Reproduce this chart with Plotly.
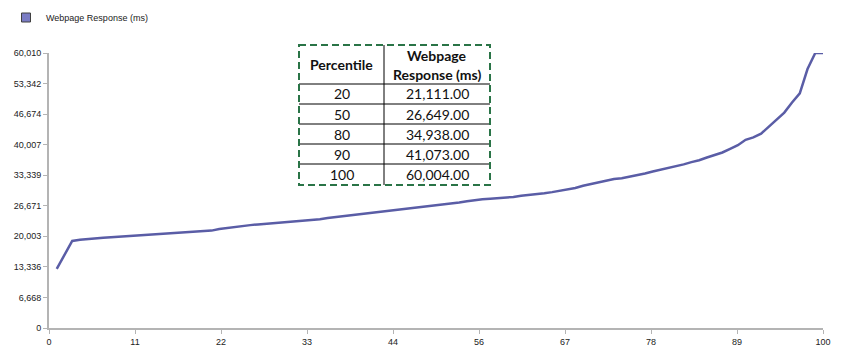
import plotly.graph_objects as go

# ---- data ----
percentiles = list(range(1, 101))
response_ms = [
    12900, 16000, 19000, 19250, 19450, 19600, 19700, 19800, 19900, 20000,
    20100, 20250, 20400, 20480, 20550, 20620, 20700, 20800, 20950, 21111,
    21250, 21600, 21850, 22100, 22300, 22450, 22600, 22750, 22850, 22950,
    23050, 23200, 23400, 23550, 23750, 24000, 24200, 24350, 24500, 24700,
    24900, 25100, 25300, 25500, 25700, 25850, 26050, 26250, 26450, 26649,
    26900, 27150, 27400, 27650, 27900, 28100, 28200, 28300, 28400, 28600,
    28850, 29000, 29200, 29400, 29650, 29950, 30200, 30550, 31050, 31400,
    31800, 32200, 32500, 32700, 33000, 33300, 33700, 34150, 34500, 34938,
    35300, 35700, 36200, 36600, 37200, 37700, 38300, 39100, 39900, 41073,
    41600, 42400, 44000, 45400, 47000, 49200, 51200, 56500, 60000, 60004,
]
series_name = "Webpage Response (ms)"

x_tickvals = [0, 11.111, 22.222, 33.333, 44.444, 55.556, 66.667, 77.778, 88.889, 100]
x_ticktext = ["0", "11", "22", "33", "44", "56", "67", "78", "89", "100"]
y_tickvals = [0, 6668, 13336, 20003, 26671, 33339, 40007, 46674, 53342, 60010]
y_ticktext = ["0", "6,668", "13,336", "20,003", "26,671", "33,339", "40,007", "46,674", "53,342", "60,010"]

table_header = ["Percentile", "Webpage", "Response (ms)"]
table_pct = ["20", "50", "80", "90", "100"]
table_vals = ["21,111.00", "26,649.00", "34,938.00", "41,073.00", "60,004.00"]

# ---- layout geometry (pixels) ----
W, H = 850, 359
L, R, T, B = 49, 27, 53, 31
PW, PH = W - L - R, H - T - B


def px(x):
    return (x - L) / PW


def py(y):
    return (H - B - y) / PH


fig = go.Figure()
fig.add_trace(go.Scatter(
    x=percentiles, y=response_ms, mode="lines",
    line=dict(color="#5a5da6", width=2.5),
    showlegend=False, name=series_name,
))
fig.add_trace(go.Scatter(
    x=[None], y=[None], mode="markers", name=series_name,
    marker=dict(symbol="square", size=9, color="#7a7cc4",
                line=dict(color="#404040", width=1)),
))

shapes = []
annotations = []

# table geometry
tx0, tx1, txm = 299, 490, 384
ty0, ty_head, ty1 = 45, 84, 185
row_lines = [104, 124, 144, 164]
tfont = dict(family="Lato, Carlito, sans-serif", size=14, color="#111111")

for yl in [ty_head] + row_lines:
    shapes.append(dict(type="line", xref="paper", yref="paper",
                       x0=px(tx0), x1=px(tx1), y0=py(yl), y1=py(yl),
                       line=dict(color="black", width=1)))
shapes.append(dict(type="line", xref="paper", yref="paper",
                   x0=px(txm), x1=px(txm), y0=py(ty0), y1=py(ty1),
                   line=dict(color="black", width=1)))
shapes.append(dict(type="rect", xref="paper", yref="paper",
                   x0=px(tx0), x1=px(tx1), y0=py(ty0), y1=py(ty1),
                   fillcolor="rgba(0,0,0,0)",
                   line=dict(color="#2a7447", width=2, dash="7px,4px")))

c1 = (tx0 + txm) / 2
c2 = (txm + tx1) / 2
annotations.append(dict(xref="paper", yref="paper", x=px(c1), y=py((ty0 + ty_head) / 2),
                        text="<b>" + table_header[0] + "</b>", showarrow=False,
                        font=tfont, xanchor="center", yanchor="middle"))
annotations.append(dict(xref="paper", yref="paper", x=px(c2), y=py(55),
                        text="<b>" + table_header[1] + "</b>", showarrow=False,
                        font=tfont, xanchor="center", yanchor="middle"))
annotations.append(dict(xref="paper", yref="paper", x=px(c2), y=py(75),
                        text="<b>" + table_header[2] + "</b>", showarrow=False,
                        font=tfont, xanchor="center", yanchor="middle"))
bounds = [ty_head] + row_lines + [ty1]
for i, (p, v) in enumerate(zip(table_pct, table_vals)):
    yc = (bounds[i] + bounds[i + 1]) / 2
    annotations.append(dict(xref="paper", yref="paper", x=px(c1), y=py(yc),
                            text=p, showarrow=False, font=tfont,
                            xanchor="center", yanchor="middle"))
    annotations.append(dict(xref="paper", yref="paper", x=px(c2), y=py(yc),
                            text=v, showarrow=False, font=tfont,
                            xanchor="center", yanchor="middle"))

axis_font = dict(family="Liberation Sans, Arial, sans-serif", size=9, color="#222222")

fig.update_layout(
    width=W, height=H,
    margin=dict(l=L, r=R, t=T, b=B, autoexpand=False),
    paper_bgcolor="white", plot_bgcolor="white",
    shapes=shapes, annotations=annotations,
    showlegend=True,
    legend=dict(x=px(6), y=py(3), xanchor="left", yanchor="top",
                font=dict(family="Liberation Sans, Arial, sans-serif", size=9, color="#222222"),
                bgcolor="rgba(0,0,0,0)", itemwidth=30),
    xaxis=dict(range=[0, 100], tickvals=x_tickvals, ticktext=x_ticktext,
               showgrid=False, zeroline=False, showline=True, automargin=False,
               linecolor="#b4b4b4", linewidth=2, ticks="outside",
               tickcolor="#b4b4b4", ticklen=4, tickfont=axis_font),
    yaxis=dict(range=[0, 60010], tickvals=y_tickvals, ticktext=y_ticktext,
               showgrid=False, zeroline=False, showline=True, automargin=False,
               linecolor="#b4b4b4", linewidth=2, ticks="outside",
               tickcolor="#b4b4b4", ticklen=4, tickfont=axis_font),
)

fig.write_html("out.html", config={"displayModeBar": False},
               post_script="document.body.style.margin='0';")
